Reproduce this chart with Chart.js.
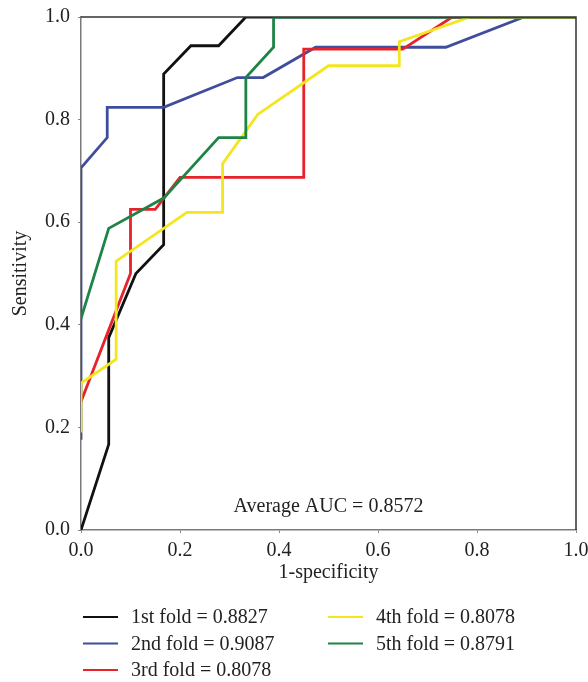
<!DOCTYPE html>
<html>
<head>
<meta charset="utf-8">
<script src="https://cdn.jsdelivr.net/npm/chart.js@4.4.1/dist/chart.umd.min.js"></script>
<style>
  body { margin: 0; background: #fff; }
  #wrap { width: 588px; height: 682px; }
</style>
</head>
<body>
<div id="wrap"><canvas id="roc" width="588" height="682"></canvas></div>
<script>
// ROC curves for each cross-validation fold (1-specificity vs sensitivity)
const fold1Fpr = [0, 0.056, 0.056, 0.111, 0.167, 0.167, 0.222, 0.278, 0.333, 1];
const fold1Tpr = [0, 0.167, 0.375, 0.5, 0.556, 0.889, 0.944, 0.944, 1, 1];

const fold2Fpr = [0, 0, 0.053, 0.053, 0.167, 0.316, 0.368, 0.474, 0.737, 0.895, 1];
const fold2Tpr = [0.176, 0.706, 0.765, 0.824, 0.824, 0.882, 0.882, 0.941, 0.941, 1, 1];

const fold3Fpr = [0, 0.1, 0.1, 0.15, 0.2, 0.45, 0.45, 0.65, 0.75, 1];
const fold3Tpr = [0.25, 0.5, 0.625, 0.625, 0.6875, 0.6875, 0.9375, 0.9375, 1, 1];

const fold4Fpr = [0, 0, 0.071, 0.071, 0.214, 0.286, 0.286, 0.357, 0.5, 0.643, 0.643, 0.786, 1];
const fold4Tpr = [0.19, 0.286, 0.333, 0.524, 0.619, 0.619, 0.714, 0.81, 0.905, 0.905, 0.952, 1, 1];

const fold5Fpr = [0, 0.056, 0.167, 0.278, 0.333, 0.333, 0.389, 0.389, 1];
const fold5Tpr = [0.412, 0.588, 0.647, 0.765, 0.765, 0.882, 0.941, 1, 1];

const foldLabels = ['1st fold = 0.8827', '2nd fold = 0.9087', '3rd fold = 0.8078', '4th fold = 0.8078', '5th fold = 0.8791'];
const foldColors = ['#111111', '#3f4d9c', '#e6232b', '#f3e61e', '#1e8446'];
const axisTicks = [0, 0.2, 0.4, 0.6, 0.8, 1.0];
const averageText = 'Average AUC = 0.8572';

const FONT = '"Liberation Serif", "Times New Roman", serif';

const toPoints = (xs, ys) => xs.map((x, i) => ({ x, y: ys[i] }));
const folds = [
  toPoints(fold1Fpr, fold1Tpr),
  toPoints(fold2Fpr, fold2Tpr),
  toPoints(fold3Fpr, fold3Tpr),
  toPoints(fold4Fpr, fold4Tpr),
  toPoints(fold5Fpr, fold5Tpr)
];

// frame (top/right), average AUC text and the two-column legend
const extras = {
  id: 'extras',
  afterDatasetsDraw(chart) {
    const { ctx, chartArea: a } = chart;
    ctx.save();
    ctx.strokeStyle = '#333';
    ctx.lineWidth = 1.5;
    ctx.beginPath();
    ctx.moveTo(a.left, a.top);
    ctx.lineTo(a.right, a.top);
    ctx.lineTo(a.right, a.bottom);
    ctx.stroke();

    ctx.fillStyle = '#222';
    ctx.font = '20px ' + FONT;
    ctx.textAlign = 'center';
    ctx.textBaseline = 'alphabetic';
    ctx.fillText(averageText, (a.left + a.right) / 2, a.bottom - 18);

    // legend: first column 1st-3rd, second column 4th-5th
    const cols = [{ lx: 83, tx: 131 }, { lx: 328, tx: 376 }];
    const rows = [617, 643.5, 670];
    ctx.textAlign = 'left';
    ctx.textBaseline = 'middle';
    foldLabels.forEach((label, i) => {
      const c = cols[i < 3 ? 0 : 1];
      const y = rows[i < 3 ? i : i - 3];
      ctx.strokeStyle = foldColors[i];
      ctx.lineWidth = 1.8;
      ctx.beginPath();
      ctx.moveTo(c.lx, y);
      ctx.lineTo(c.lx + 35, y);
      ctx.stroke();
      ctx.fillStyle = '#222';
      ctx.fillText(label, c.tx, y + 1);
    });
    ctx.restore();
  }
};

new Chart(document.getElementById('roc'), {
  type: 'line',
  data: {
    datasets: folds.map((pts, i) => ({
      label: foldLabels[i],
      data: pts,
      borderColor: foldColors[i],
      borderWidth: 2.8,
      borderJoinStyle: 'miter',
      pointRadius: 0,
      tension: 0,
      fill: false,
      order: 4 - i
    }))
  },
  options: {
    responsive: false,
    animation: false,
    layout: { padding: { left: 0, top: 17, right: 12, bottom: 82 } },
    plugins: { legend: { display: false }, tooltip: { enabled: false } },
    scales: {
      x: {
        type: 'linear',
        min: 0, max: 1,
        afterBuildTicks: s => { s.ticks = axisTicks.map(v => ({ value: v })); },
        afterFit: s => { s.height = 70; s.paddingLeft = 0; s.paddingRight = 0; },
        grid: { drawOnChartArea: false, drawTicks: true, tickLength: 3, color: '#888' },
        border: { color: '#7a7a7a', width: 1.5 },
        ticks: {
          color: '#222',
          font: { family: FONT, size: 20 },
          padding: 6,
          maxRotation: 0,
          callback: v => v.toFixed(1)
        },
        title: {
          display: true,
          text: '1-specificity',
          color: '#222',
          font: { family: FONT, size: 20 },
          padding: { top: 0, bottom: 15 }
        }
      },
      y: {
        type: 'linear',
        min: 0, max: 1,
        afterBuildTicks: s => { s.ticks = axisTicks.map(v => ({ value: v })); },
        afterFit: s => { s.width = 81; s.paddingTop = 0; s.paddingBottom = 0; },
        grid: { drawOnChartArea: false, drawTicks: true, tickLength: 3, color: '#888' },
        border: { color: '#7a7a7a', width: 1.5 },
        ticks: {
          color: '#222',
          font: { family: FONT, size: 20 },
          padding: 8,
          callback: v => v.toFixed(1)
        },
        title: {
          display: true,
          text: 'Sensitivity',
          color: '#222',
          font: { family: FONT, size: 20 },
          padding: { top: 9, bottom: 0 }
        }
      }
    }
  },
  plugins: [extras]
});
</script>
</body>
</html>
